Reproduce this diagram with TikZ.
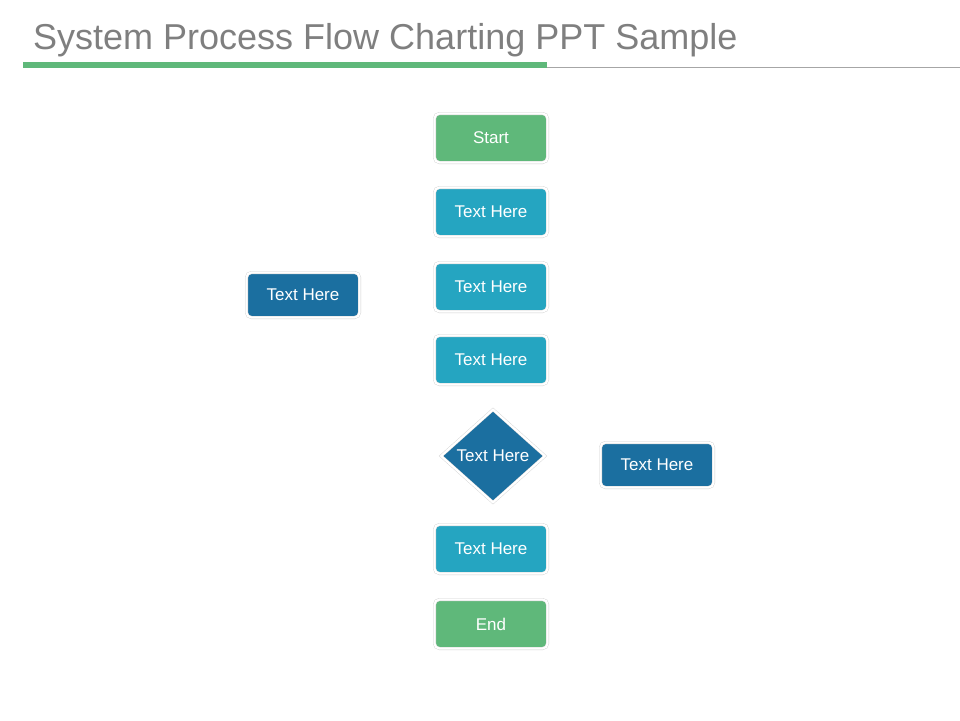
\documentclass[tikz,border=0pt]{standalone}
\usepackage{fontspec}
\setmainfont{Liberation Sans}
\usetikzlibrary{shapes.geometric}
\definecolor{flowgreen}{HTML}{5FB87A}
\definecolor{flowteal}{HTML}{25A5C1}
\definecolor{flowblue}{HTML}{1B6FA0}
\definecolor{titlegray}{HTML}{7F7F7F}
\tikzset{
  box/.style={rectangle, rounded corners=5pt, minimum width=113pt, minimum height=49pt,
    draw=black!18, double=white, double distance=2.2pt, text=white, font=\fontsize{17}{20}\selectfont},
  termbox/.style={box, fill=flowgreen},
  procbox/.style={box, fill=flowteal},
  sidebox/.style={box, fill=flowblue, minimum height=45pt},
  decision/.style={diamond, minimum width=104pt, minimum height=93pt, inner sep=0pt,
    draw=black!18, double=white, double distance=2.2pt, fill=flowblue, text=white,
    font=\fontsize{17}{20}\selectfont}
}
\begin{document}
\begin{tikzpicture}[x=1pt,y=-1pt]
\useasboundingbox (0,0) rectangle (960,720);
% title
\node[anchor=west, text=titlegray, font=\fontsize{36}{40}\selectfont, inner sep=0pt] (title) at (33,40) {System Process Flow Charting PPT Sample};
\draw[black!35, line width=0.8pt] (23,67) -- (960,67);
\draw[flowgreen, line width=6pt] (23,65) -- (547,65);
% main column
\node[termbox] (start) at (491,138) {Start};
\node[procbox] (step1) at (491,212) {Text Here};
\node[procbox] (step2) at (491,287) {Text Here};
\node[procbox] (step3) at (491,360) {Text Here};
\node[decision] (check) at (493,456) {Text Here};
\node[procbox] (step4) at (491,549) {Text Here};
\node[termbox] (end) at (491,624) {End};
% side boxes
\node[sidebox] (left) at (303,295) {Text Here};
\node[sidebox] (right) at (657,465) {Text Here};
\end{tikzpicture}
\end{document}
